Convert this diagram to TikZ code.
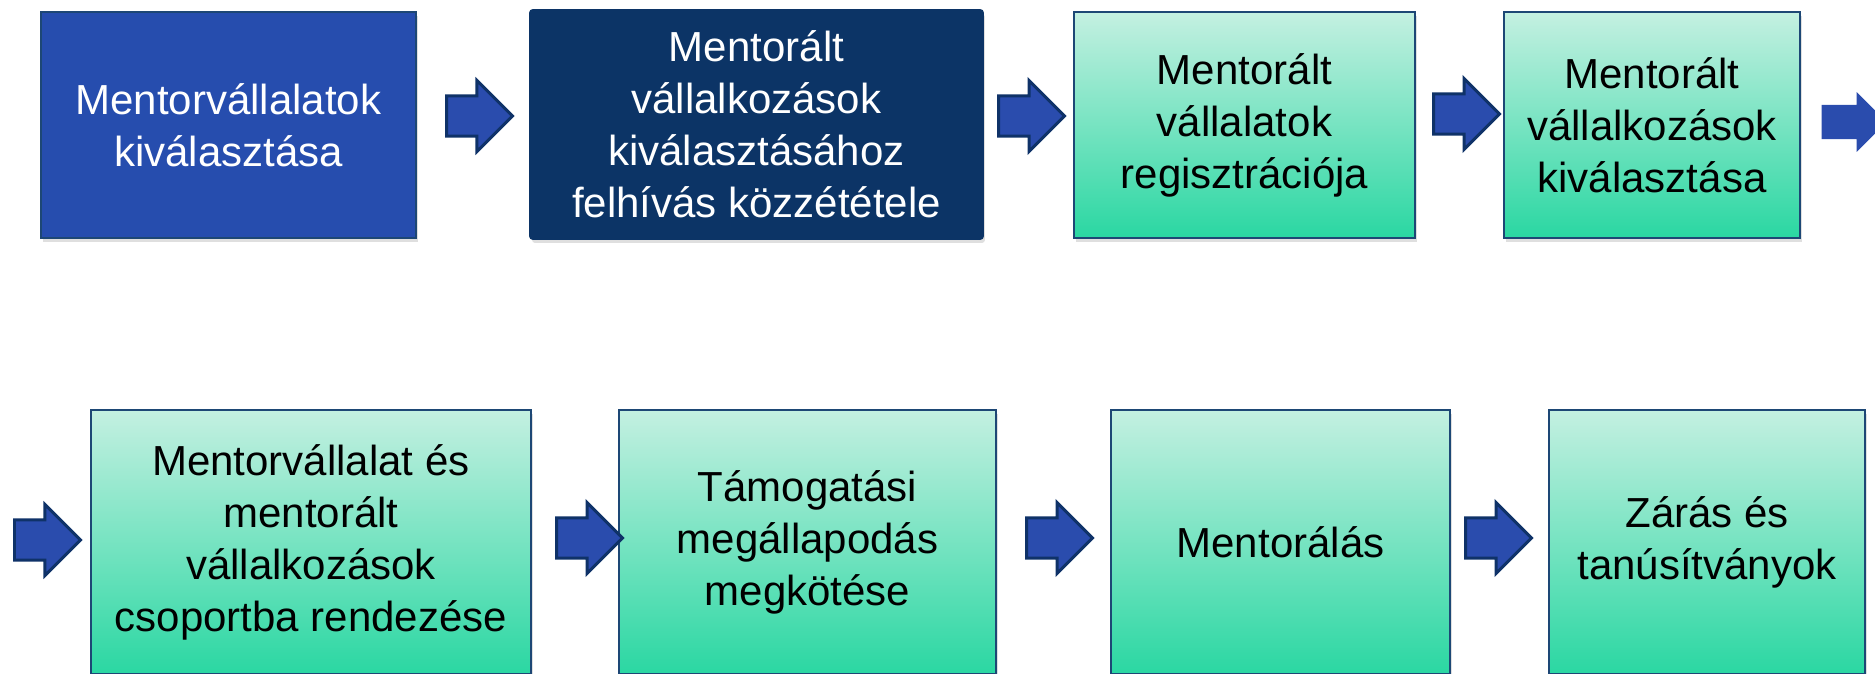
\documentclass[tikz,border=0pt]{standalone}
\usepackage{fontspec}
\setmainfont{Liberation Sans}
\usepackage{xcolor}
\usepackage{tikz}
\usetikzlibrary{shapes.arrows,shadows}
\definecolor{royal}{HTML}{264DAE}
\definecolor{navy}{HTML}{0C3466}
\definecolor{minttop}{HTML}{C4F0E1}
\definecolor{mintbot}{HTML}{2AD7A2}
\definecolor{edge}{HTML}{1D4775}
\definecolor{arrfill}{HTML}{2A4CAD}
\definecolor{arredge}{HTML}{0F3268}
\tikzset{
  stepbox/.style={draw=edge, line width=0.4mm, align=center, inner sep=0pt,
    font=\fontsize{23.9pt}{29.6pt}\selectfont,
    drop shadow={shadow xshift=0.4mm, shadow yshift=-0.8mm, opacity=0.25}},
  bluebox/.style={stepbox, fill=royal, text=white},
  navybox/.style={stepbox, fill=navy, draw=navy, text=white, rounded corners=0.6mm},
  mintbox/.style={stepbox, top color=minttop, bottom color=mintbot, text=black},
  blockarr/.style={single arrow, anchor=tail, fill=arrfill, draw=arredge, line width=0.6mm,
    inner xsep=0pt, inner ysep=3mm, minimum width=14.2mm, minimum height=13.2mm},
}

\begin{document}
\begin{tikzpicture}[x=0.02cm, y=-0.02cm]
  \useasboundingbox (0,0) rectangle (1875,673);
  \clip (0,0) rectangle (1875,673);

  \node[bluebox, minimum width=75mm, minimum height=45.2mm] (b1) at (228.5,125) {Mentorvállalatok\\kiválasztása};
  \node[navybox, minimum width=90.6mm, minimum height=45.8mm] (b2) at (756.5,124.5) {Mentorált\\vállalkozások\\kiválasztásához\\felhívás közzététele};
  \node[mintbox, minimum width=68.2mm, minimum height=45.2mm] (b3) at (1244.5,125) {Mentorált\\vállalatok\\regisztrációja};
  \node[mintbox, minimum width=59.2mm, minimum height=45.2mm] (b4) at (1652,125) {Mentorált\\vállalkozások\\kiválasztása};

  \node[mintbox, minimum width=88mm, minimum height=53mm] (b5) at (311,542) {Mentorvállalat és\\mentorált\\vállalkozások\\csoportba rendezése};
  \node[mintbox, minimum width=75.4mm, minimum height=53mm] (b6) at (807.5,542) {Támogatási\\megállapodás\\megkötése};
  \node[mintbox, minimum width=67.8mm, minimum height=53mm] (b7) at (1280.5,542) {Mentorálás};
  \node[mintbox, minimum width=63.2mm, minimum height=53mm] (b8) at (1707,542) {Zárás és\\tanúsítványok};

  \node[blockarr] (a1) at (445,116) {};
  \node[blockarr] (a2) at (997,116) {};
  \node[blockarr] (a3) at (1432,114) {};
  \node[blockarr, draw=none, minimum width=12mm, minimum height=13mm] (a4) at (1820,122) {};

  \node[blockarr] (a5) at (13,540) {};
  \node[blockarr] (a6) at (555,538) {};
  \node[blockarr] (a7) at (1025,538) {};
  \node[blockarr] (a8) at (1464,538) {};
\end{tikzpicture}
\end{document}
